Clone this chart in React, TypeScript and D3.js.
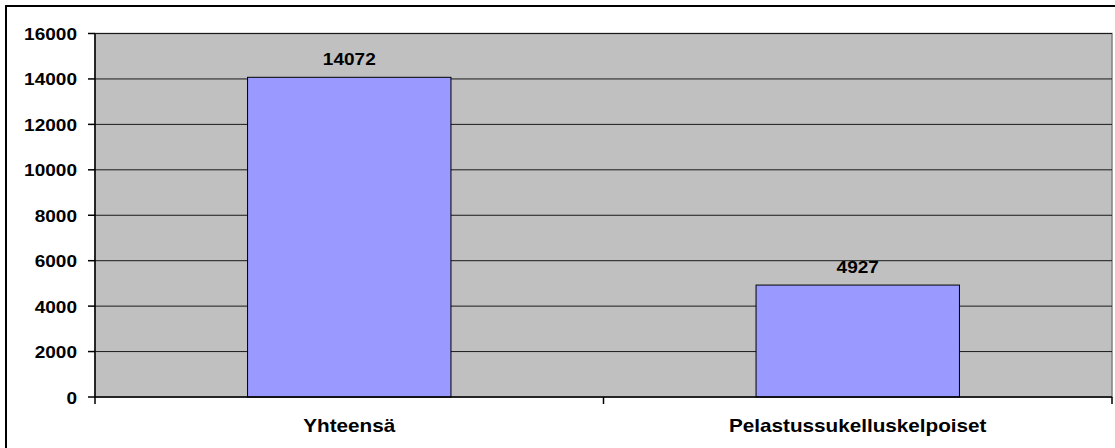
import React, { useEffect, useRef } from 'react';
import * as d3 from 'd3';

const categories = ['Yhteensä', 'Pelastussukelluskelpoiset'];
const values = [14072, 4927];
const yTicks = [0, 2000, 4000, 6000, 8000, 10000, 12000, 14000, 16000];

const App = () => {
  const svgRef = useRef<SVGSVGElement | null>(null);

  useEffect(() => {
    if (!svgRef.current) return;
    d3.select(svgRef.current).selectAll('*').remove();

    const width = 1115;
    const height = 448;
    const margin = { top: 33.5, right: 3, bottom: 51, left: 95 };
    const chartWidth = width - margin.left - margin.right;
    const chartHeight = height - margin.top - margin.bottom;
    const font = '"Liberation Sans", Arial, sans-serif';

    const svg = d3.select(svgRef.current)
      .attr('width', width)
      .attr('height', height);

    svg.append('rect')
      .attr('width', width)
      .attr('height', height)
      .attr('fill', '#fff');

    // outer chart border (cropped at right/bottom)
    svg.append('rect')
      .attr('x', 6)
      .attr('y', 6)
      .attr('width', width + 10)
      .attr('height', height + 10)
      .attr('fill', 'none')
      .attr('stroke', '#000')
      .attr('stroke-width', 2);

    const x = d3.scaleBand()
      .domain(categories)
      .range([0, chartWidth])
      .paddingInner(0.6)
      .paddingOuter(0.3);

    const y = d3.scaleLinear()
      .domain([0, 16000])
      .range([chartHeight, 0]);

    const g = svg.append('g')
      .attr('transform', `translate(${margin.left}, ${margin.top})`);

    // plot area
    g.append('rect')
      .attr('width', chartWidth)
      .attr('height', chartHeight)
      .attr('fill', '#c0c0c0')
      .attr('stroke', '#808080')
      .attr('stroke-width', 1.5);

    // gridlines
    g.selectAll('.grid')
      .data(yTicks.filter(t => t > 0))
      .enter()
      .append('line')
      .attr('x1', 0)
      .attr('x2', chartWidth)
      .attr('y1', d => y(d))
      .attr('y2', d => y(d))
      .attr('stroke', '#1a1a1a')
      .attr('stroke-width', 1);

    // bars
    g.selectAll('.bar')
      .data(values)
      .enter()
      .append('rect')
      .attr('x', (d, i) => x(categories[i]) as number)
      .attr('y', d => y(d))
      .attr('width', x.bandwidth())
      .attr('height', d => chartHeight - y(d))
      .attr('fill', '#9999ff')
      .attr('stroke', '#000')
      .attr('stroke-width', 1);

    // value labels
    g.selectAll('.value')
      .data(values)
      .enter()
      .append('text')
      .attr('transform', (d, i) =>
        `translate(${(x(categories[i]) as number) + x.bandwidth() / 2}, ${y(d) - 12}) scale(1.12, 1)`)
      .attr('text-anchor', 'middle')
      .attr('font-family', font)
      .attr('font-weight', 'bold')
      .attr('font-size', '17px')
      .attr('fill', '#000')
      .text(d => String(d));

    // axes lines
    g.append('line')
      .attr('x1', 0).attr('x2', 0)
      .attr('y1', 0).attr('y2', chartHeight)
      .attr('stroke', '#000').attr('stroke-width', 1.5);
    g.append('line')
      .attr('x1', 0).attr('x2', chartWidth)
      .attr('y1', chartHeight).attr('y2', chartHeight)
      .attr('stroke', '#000').attr('stroke-width', 1.5);

    // y ticks
    g.selectAll('.ytick')
      .data(yTicks)
      .enter()
      .append('line')
      .attr('x1', -7).attr('x2', 0)
      .attr('y1', d => y(d)).attr('y2', d => y(d))
      .attr('stroke', '#000').attr('stroke-width', 1.5);

    g.selectAll('.ylabel')
      .data(yTicks)
      .enter()
      .append('text')
      .attr('transform', d => `translate(-18, ${y(d) + 6.5}) scale(1.12, 1)`)
      .attr('text-anchor', 'end')
      .attr('font-family', font)
      .attr('font-weight', 'bold')
      .attr('font-size', '17px')
      .attr('fill', '#000')
      .text(d => String(d));

    // x ticks at category boundaries
    const step = x.step();
    const boundaries = d3.range(categories.length + 1).map(i => i * step);
    g.selectAll('.xtick')
      .data(boundaries)
      .enter()
      .append('line')
      .attr('x1', d => Math.min(d, chartWidth)).attr('x2', d => Math.min(d, chartWidth))
      .attr('y1', chartHeight).attr('y2', chartHeight + 7)
      .attr('stroke', '#000').attr('stroke-width', 1.5);

    // category labels
    g.selectAll('.xlabel')
      .data(categories)
      .enter()
      .append('text')
      .attr('transform', d =>
        `translate(${(x(d) as number) + x.bandwidth() / 2}, ${chartHeight + 35}) scale(1.15, 1)`)
      .attr('text-anchor', 'middle')
      .attr('font-family', font)
      .attr('font-weight', 'bold')
      .attr('font-size', '18px')
      .attr('fill', '#000')
      .text(d => d);
  }, []);

  return (
    <svg ref={svgRef} style={{ position: 'absolute', left: 0, top: 0, display: 'block' }}></svg>
  );
};

export default App;
